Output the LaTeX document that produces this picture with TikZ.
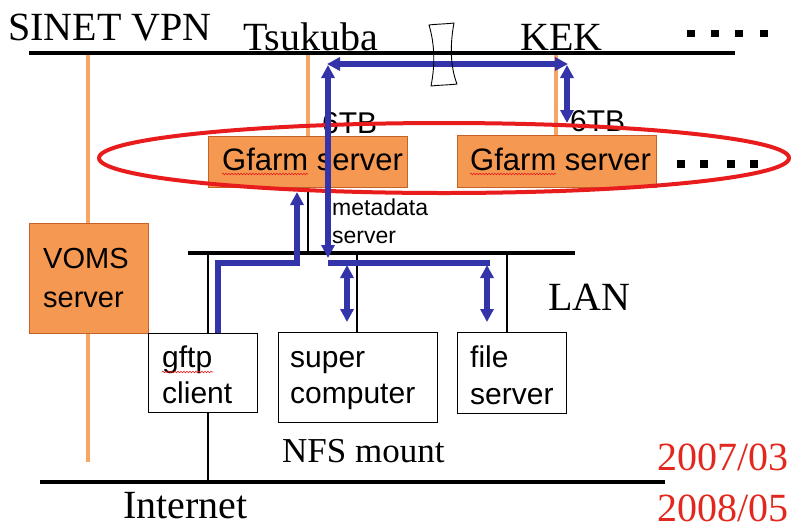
\documentclass[tikz,border=0pt]{standalone}
\usepackage{fontspec}
\setmainfont{Liberation Serif}
\setsansfont{Liberation Sans}
\usetikzlibrary{arrows.meta,decorations.pathmorphing}
\definecolor{netblue}{RGB}{52,52,170}
\definecolor{boxorange}{RGB}{244,152,82}
\definecolor{boxedge}{RGB}{196,98,40}
\definecolor{linkorange}{RGB}{245,165,100}
\definecolor{ovalred}{RGB}{232,28,28}
\definecolor{datered}{RGB}{226,40,30}
\begin{document}
\begin{tikzpicture}[x=1pt,y=-1pt,
  bus/.style={line width=4.5pt},
  tap/.style={line width=1.5pt},
  olink/.style={linkorange,line width=4pt},
  flow/.style={netblue,line width=5.2pt},
  tipped/.style={-{Triangle[length=13pt,width=13pt]}},
  bothtipped/.style={{Triangle[length=13pt,width=13pt]}-{Triangle[length=13pt,width=13pt]}},
  obox/.style={draw=boxedge,fill=boxorange,line width=0.9pt,inner sep=0pt,anchor=north west},
  wbox/.style={draw=black,fill=white,line width=0.9pt,inner sep=0pt,anchor=north west},
  serlab/.style={font=\fontsize{40}{40}\selectfont,inner sep=0pt,anchor=base west},
  sanslab/.style={font=\sffamily\fontsize{30}{30}\selectfont,inner sep=0pt,anchor=base west},
  smalllab/.style={font=\sffamily\fontsize{23}{23}\selectfont,inner sep=0pt,anchor=base west},
  squig/.style={ovalred,line width=0.6pt,decorate,decoration={snake,amplitude=0.8pt,segment length=3pt}},
  dot/.style={fill=black}]
\useasboundingbox (0,0) rectangle (791,523);

% bus end points
\coordinate (sinetL) at (29,53);
\coordinate (sinetR) at (735,53);
\coordinate (lanL) at (188,253);
\coordinate (lanR) at (575,253);
\coordinate (netL) at (40,482);
\coordinate (netR) at (665,482);
\coordinate (vomsTop) at (88,53);
\coordinate (vomsEnd) at (88,462);
\coordinate (tsuTop) at (308,53);
\coordinate (kekTop) at (556,53);

% orange site links
\draw[olink] (vomsTop) -- (vomsEnd);
\draw[olink] (tsuTop) -- (308,136);
\draw[olink] (kekTop) -- (556,135);

% buses
\draw[bus] (sinetL) -- (sinetR);
\draw[bus] (lanL) -- (lanR);
\draw[bus] (netL) -- (netR);

% boxes
\node[obox,minimum width=199pt,minimum height=51pt] (gs1) at (208,136) {};
\node[obox,minimum width=199pt,minimum height=52pt] (gs2) at (457,135) {};
\node[obox,minimum width=119pt,minimum height=110pt] (voms) at (29,223) {};
\node[wbox,minimum width=109pt,minimum height=79pt] (gftp) at (148,333) {};
\node[wbox,minimum width=159pt,minimum height=90pt] (super) at (278,332) {};
\node[wbox,minimum width=109pt,minimum height=81pt] (file) at (457,332) {};

% thin taps
\draw[tap] (gs1.south -| tsuTop) -- (tsuTop |- lanL);
\coordinate (tapA) at (208,253);
\coordinate (tapB) at (357,253);
\coordinate (tapC) at (507,253);
\draw[tap] (tapA) -- (tapA |- gftp.north);
\draw[tap] (tapB) -- (tapB |- super.north);
\draw[tap] (tapC) -- (tapC |- file.north);
\draw[tap] (tapA |- gftp.south) -- (tapA |- netL);

% serif labels
\node[serlab] (lsinet) at (8,40) {SINET VPN};
\node[serlab] (ltsu) at (243,50) {Tsukuba};
\node[serlab] (lkek) at (520,50) {KEK};
\node[serlab] (llan) at (548,310) {LAN};
\node[serlab,font=\fontsize{35}{35}\selectfont] (lnfs) at (282,462) {NFS mount};
\node[serlab] (lnet) at (123,518) {Internet};
\node[serlab,text=datered] (d1) at (657,470) {2007/03};
\node[serlab,text=datered] (d2) at (657,521) {2008/05};

% box texts
\node[sanslab,font=\sffamily\fontsize{31}{31}\selectfont] (tgs1) at (222,170) {Gfarm server};
\node[sanslab,font=\sffamily\fontsize{31}{31}\selectfont] (tgs2) at (470,170) {Gfarm server};
\node[sanslab,font=\sffamily\fontsize{29}{29}\selectfont] (tv1) at (43,268) {VOMS};
\node[sanslab,font=\sffamily\fontsize{29}{29}\selectfont] (tv2) at (43,307) {server};
\node[sanslab] (tg1) at (162,367) {gftp};
\node[sanslab] (tg2) at (162,403) {client};
\node[sanslab] (ts1) at (290,367) {super};
\node[sanslab] (ts2) at (290,403) {computer};
\node[sanslab] (tf1) at (470,367) {file};
\node[sanslab] (tf2) at (470,404) {server};
\node[sanslab] (tb1) at (322,133) {6TB};
\node[sanslab] (tb2) at (570,131) {6TB};
\node[smalllab] (tm1) at (332,215) {metadata};
\node[smalllab] (tm2) at (332,243) {server};

% spell-check squiggles
\draw[squig] (222,174) -- (308,174);
\draw[squig] (470,174) -- (556,174);
\draw[squig] (162,372) -- (213,372);

% red oval
\draw[ovalred,line width=4pt] (444,158) ellipse [x radius=345, y radius=35];

% blue flows
\coordinate (fA) at (327,64);
\coordinate (fB) at (568,64);
\draw[flow,bothtipped] (fA) -- (fB);
\draw[flow,bothtipped] (328,65) -- (328,258);
\draw[flow] (328,263) -- (490,263);
\draw[flow,bothtipped] (347,265) -- (347,322);
\draw[flow,bothtipped] (487,265) -- (487,322);
\draw[flow,bothtipped] (567,65) -- (567,123);
\draw[flow,tipped] (218,333) -- (218,263) -- (297,263) -- (297,192);

% WAN break symbol
\draw[line width=0.9pt,line join=round] (429,25) .. controls (435,45) and (435,66) .. (431,86)
  .. controls (440,85) and (449,85) .. (457,84)
  .. controls (450,66) and (450,44) .. (454,23)
  .. controls (446,24) and (437,24) .. cycle;

% ellipsis squares
\foreach \x in {687,711,735,760} \fill[dot] (\x,30) rectangle ++(8,7);
\foreach \x in {677,700,727,750} \fill[dot] (\x,160) rectangle ++(8,8);
\end{tikzpicture}
\end{document}
